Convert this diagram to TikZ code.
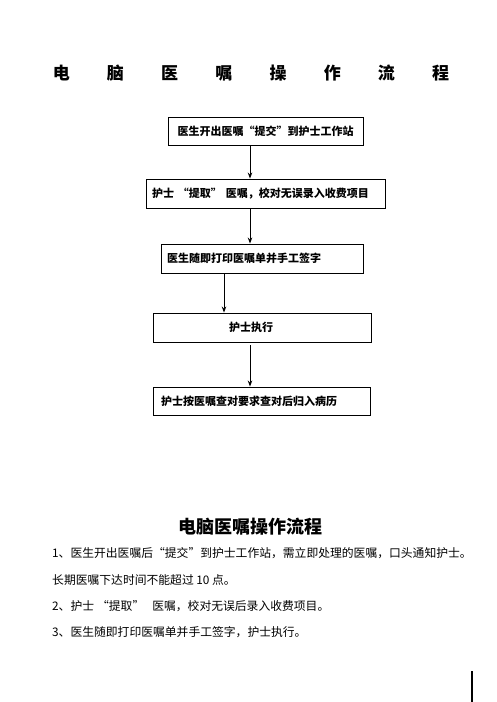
\documentclass[tikz,border=0pt]{standalone}
\usepackage{fontspec}
\setmainfont{Noto Sans CJK SC}
\usetikzlibrary{arrows.meta}
\begin{document}
\begin{tikzpicture}[x=1pt,y=-1pt,
  box/.style={draw=black,line width=0.9pt,rectangle,inner xsep=0pt,inner ysep=0pt,
    font=\fontsize{11}{13}\selectfont\bfseries},
  arr/.style={draw=black,line width=0.9pt,-{Stealth[length=6pt,width=4.5pt]}},
  body/.style={anchor=west,inner sep=0pt,font=\fontsize{11.8}{14}\selectfont}
]
\useasboundingbox (0,0) rectangle (496,702);
% title
\node[inner sep=0pt,font=\fontsize{17}{20}\selectfont\bfseries] (t1) at (251,73)
  {电\hspace{37.2pt}脑\hspace{37.2pt}医\hspace{37.2pt}嘱\hspace{37.2pt}操\hspace{37.2pt}作\hspace{37.2pt}流\hspace{37.2pt}程};
% boxes
\node[box,minimum width=195pt,minimum height=28pt] (b1) at (265.5,131) {医生开出医嘱“提交”到护士工作站};
\node[box,minimum width=239pt,minimum height=29pt,text width=227pt,align=left] (b2) at (265.5,193.5) {\hspace*{0pt}护士\hspace{4pt}“提取”\hspace{4pt}医嘱，校对无误录入收费项目};
\node[box,minimum width=202pt,minimum height=29pt,text width=190pt,align=left] (b3) at (262,258.5) {医生随即打印医嘱单并手工签字};
\node[box,minimum width=218pt,minimum height=29pt,text width=218pt,align=left] (b4) at (262,327.5) {\hspace*{76pt}护士执行};
\node[box,minimum width=217pt,minimum height=28pt,text width=201pt,align=left] (b5) at (261.5,401) {护士按医嘱查对要求查对后归入病历};
\coordinate (xa) at (250,0);
\coordinate (xb) at (224,0);
\draw[arr] (xa |- b1.south) -- (xa |- b2.north);
\draw[arr] (xa |- b2.south) -- (xa |- b3.north);
\draw[arr] (xb |- b3.south) -- (xb |- b4.north);
\draw[arr,shorten <=3pt] (xa |- b4.south) -- (xa |- b5.north);
% second title
\node[inner sep=0pt,font=\fontsize{18}{21}\selectfont\bfseries] (t2) at (250.5,527) {电脑医嘱操作流程};
\node[body] (l1) at (52,553) {1、医生开出医嘱后“提交”到护士工作站，需立即处理的医嘱，口头通知护士。};
\node[body] (l2) at (52,580) {长期医嘱下达时间不能超过 10 点。};
\node[body] (l3) at (52,606) {2、护士\hspace{3pt}“提取”\hspace{8pt}医嘱，校对无误后录入收费项目。};
\node[body] (l4) at (52,632) {3、医生随即打印医嘱单并手工签字，护士执行。};
\draw[line width=1.4pt] (472,671) -- (472,702);
\end{tikzpicture}
\end{document}
